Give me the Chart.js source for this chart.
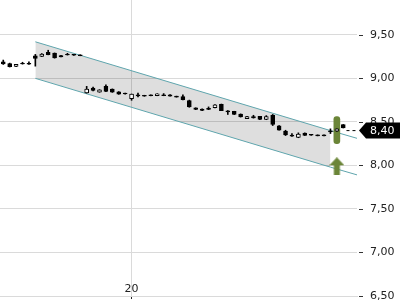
<!DOCTYPE html>
<html>
<head>
<meta charset="utf-8">
<script src="https://cdn.jsdelivr.net/npm/chart.js@4.4.0/dist/chart.umd.min.js"></script>
<style>
  html, body { margin: 0; padding: 0; background: #fff; }
</style>
</head>
<body>
<canvas id="chart" width="400" height="300"></canvas>
<script>
// one candle per session
const opens  = [9.19, 9.17, 9.137, 9.172, 9.172, 9.26, 9.252, 9.30, 9.29, 9.263,
                9.275, 9.275, 9.27, 8.832, 8.887, 8.842, 8.908, 8.877, 8.846, 8.83,
                8.767, 8.812, 8.805, 8.81, 8.802, 8.812, 8.812, 8.795, 8.79, 8.744,
                8.66, 8.648, 8.656, 8.662, 8.703, 8.628, 8.62, 8.59, 8.538, 8.56,
                8.563, 8.527, 8.575, 8.456, 8.395, 8.348, 8.322, 8.372, 8.356, 8.35,
                8.35, 8.398, 8.393, 8.468];
const highs  = [9.21, 9.175, 9.162, 9.185, 9.19, 9.275, 9.285, 9.323, 9.292, 9.265,
                9.288, 9.276, 9.271, 8.908, 8.90, 8.87, 8.927, 8.879, 8.848, 8.831,
                8.82, 8.832, 8.806, 8.811, 8.824, 8.825, 8.813, 8.796, 8.81, 8.75,
                8.662, 8.65, 8.672, 8.698, 8.705, 8.63, 8.622, 8.592, 8.563, 8.576,
                8.565, 8.572, 8.585, 8.458, 8.404, 8.366, 8.374, 8.374, 8.357, 8.351,
                8.351, 8.42, 8.42, 8.47];
const lows   = [9.16, 9.13, 9.135, 9.163, 9.16, 9.14, 9.25, 9.27, 9.232, 9.245,
                9.267, 9.264, 9.259, 8.83, 8.855, 8.84, 8.848, 8.839, 8.816, 8.819,
                8.748, 8.786, 8.794, 8.799, 8.80, 8.80, 8.794, 8.784, 8.752, 8.668,
                8.64, 8.63, 8.64, 8.66, 8.629, 8.585, 8.584, 8.555, 8.536, 8.543,
                8.526, 8.525, 8.458, 8.404, 8.343, 8.334, 8.318, 8.343, 8.345, 8.339,
                8.339, 8.366, 8.39, 8.43];
const closes = [9.165, 9.135, 9.16, 9.165, 9.163, 9.23, 9.28, 9.272, 9.235, 9.246,
                9.268, 9.265, 9.26, 8.878, 8.86, 8.869, 8.85, 8.84, 8.817, 8.82,
                8.818, 8.798, 8.795, 8.80, 8.823, 8.802, 8.795, 8.785, 8.755, 8.673,
                8.642, 8.632, 8.643, 8.697, 8.63, 8.614, 8.585, 8.556, 8.562, 8.545,
                8.527, 8.56, 8.47, 8.405, 8.35, 8.336, 8.36, 8.345, 8.346, 8.34,
                8.34, 8.385, 8.42, 8.432];

const xTicks = [20];
const xTickLabels = ['20'];
const yTicks = [6.5, 7, 7.5, 8, 8.5, 9, 9.5];
const yTickLabels = ['6,50', '7,00', '7,50', '8,00', '8,50', '9,00', '9,50'];

// trend channel: start, end of shading, end of lines
const channelX = [5, 51, 55.2];
const channelUpper = [9.42, 8.40, 8.31];
const channelLower = [9.00, 7.98, 7.89];

// signal marker
const signalX = [52];
const signalBar = [[8.25, 8.56]];
const signalArrow = [7.99];

const lastPrice = 8.40;
const lastPriceLabel = '8,40';
const lastPriceFrom = 53.5;

const signalColor = '#6b8538';
const gridColor = '#dadada';

Chart.defaults.font.family = '"DejaVu Sans", sans-serif';
Chart.defaults.font.size = 11;
Chart.defaults.color = '#222';

function makeArrow() {
    const c = document.createElement('canvas');
    c.width = 15;
    c.height = 18;
    const g = c.getContext('2d');
    g.fillStyle = signalColor;
    g.beginPath();
    g.moveTo(7.5, 0);
    g.lineTo(15, 8);
    g.lineTo(10.5, 8);
    g.lineTo(10.5, 18);
    g.lineTo(4.5, 18);
    g.lineTo(4.5, 8);
    g.lineTo(0, 8);
    g.closePath();
    g.fill();
    return c;
}

const idx = opens.map((v, i) => i);

const overlay = {
    id: 'overlay',
    afterDraw(chart) {
        const ctx = chart.ctx;
        const xs = chart.scales.x;
        const ys = chart.scales.y;
        ctx.save();

        // small dashes next to the price labels
        ctx.strokeStyle = '#333';
        ctx.lineWidth = 1;
        yTicks.forEach(v => {
            const py = Math.round(ys.getPixelForValue(v)) + 0.5;
            ctx.beginPath();
            ctx.moveTo(ys.left + 2, py);
            ctx.lineTo(ys.left + 6, py);
            ctx.stroke();
        });

        // time label sits just above the bottom axis
        ctx.fillStyle = '#222';
        ctx.font = '11px "DejaVu Sans"';
        ctx.textAlign = 'center';
        ctx.textBaseline = 'alphabetic';
        xTicks.forEach((v, i) => {
            ctx.fillText(xTickLabels[i], xs.getPixelForValue(v), xs.top - 4);
        });

        // last price tag
        const py = ys.getPixelForValue(lastPrice);
        const left = ys.left + 2;
        ctx.fillStyle = '#000';
        ctx.beginPath();
        ctx.moveTo(left, py);
        ctx.lineTo(left + 7, py - 8);
        ctx.lineTo(chart.width, py - 8);
        ctx.lineTo(chart.width, py + 8);
        ctx.lineTo(left + 7, py + 8);
        ctx.closePath();
        ctx.fill();
        ctx.fillStyle = '#fff';
        ctx.textAlign = 'left';
        ctx.textBaseline = 'middle';
        ctx.fillText(lastPriceLabel, ys.left + 13, py + 1);

        ctx.restore();
    }
};

new Chart(document.getElementById('chart'), {
    type: 'bar',
    data: {
        datasets: [
            {   // candle bodies
                data: idx.map(i => ({ x: i, y: [opens[i], closes[i]] })),
                backgroundColor: idx.map(i => closes[i] > opens[i] ? '#fff' : '#000'),
                borderColor: '#000',
                borderWidth: 1,
                borderSkipped: false,
                barThickness: 4,
                grouped: false,
                order: 0
            },
            {   // wicks
                data: idx.map(i => ({ x: i, y: [lows[i], highs[i]] })),
                backgroundColor: '#000',
                borderWidth: 0,
                barThickness: 1,
                grouped: false,
                order: 1
            },
            {
                type: 'line',
                data: [{ x: lastPriceFrom, y: lastPrice }, { x: channelX[2], y: lastPrice }],
                borderColor: '#000',
                borderWidth: 1,
                borderDash: [3, 3],
                pointRadius: 0,
                order: 2
            },
            {
                type: 'line',
                data: signalX.map((x, i) => ({ x: x, y: signalArrow[i] })),
                showLine: false,
                pointStyle: makeArrow(),
                pointRadius: 8,
                order: 2
            },
            {   // highlight bar at the signal candle
                data: signalX.map((x, i) => ({ x: x, y: signalBar[i] })),
                backgroundColor: signalColor,
                borderWidth: 0,
                borderSkipped: false,
                borderRadius: 3,
                barThickness: 6,
                grouped: false,
                order: 3
            },
            {
                type: 'line',
                data: channelX.map((x, i) => ({ x: x, y: channelUpper[i] })),
                borderColor: '#5fa5ad',
                borderWidth: 1,
                pointRadius: 0,
                order: 4
            },
            {
                type: 'line',
                data: channelX.map((x, i) => ({ x: x, y: channelLower[i] })),
                borderColor: '#5fa5ad',
                borderWidth: 1,
                pointRadius: 0,
                order: 4
            },
            {   // shaded channel, filled down to the next dataset
                type: 'line',
                data: channelX.slice(0, 2).map((x, i) => ({ x: x, y: channelUpper[i] })),
                borderWidth: 0,
                pointRadius: 0,
                backgroundColor: 'rgba(0,0,0,0.13)',
                fill: '+1',
                order: 5
            },
            {
                type: 'line',
                data: channelX.slice(0, 2).map((x, i) => ({ x: x, y: channelLower[i] })),
                borderWidth: 0,
                pointRadius: 0,
                fill: false,
                order: 6
            }
        ]
    },
    options: {
        responsive: false,
        animation: false,
        events: [],
        layout: { padding: 0, autoPadding: false },
        plugins: {
            legend: { display: false },
            tooltip: { enabled: false }
        },
        scales: {
            x: {
                type: 'linear',
                min: -0.51,
                max: 55.14,
                offset: false,
                grid: { color: gridColor, offset: false, drawTicks: true, tickLength: 3, tickColor: '#222' },
                border: { display: true, color: gridColor },
                ticks: { display: false },
                afterBuildTicks: s => { s.ticks = xTicks.map(v => ({ value: v })); },
                afterFit: s => { s.height = 4; s.paddingLeft = 0; s.paddingRight = 0; }
            },
            y: {
                position: 'right',
                min: 6.5,
                max: 9.9,
                grid: { color: gridColor, drawTicks: false },
                border: { display: false },
                ticks: {
                    padding: 13,
                    callback: v => yTickLabels[yTicks.indexOf(v)]
                },
                afterBuildTicks: s => { s.ticks = yTicks.map(v => ({ value: v })); },
                afterFit: s => { s.width = 43; s.paddingTop = 0; s.paddingBottom = 0; }
            }
        }
    },
    plugins: [overlay]
});
</script>
</body>
</html>
